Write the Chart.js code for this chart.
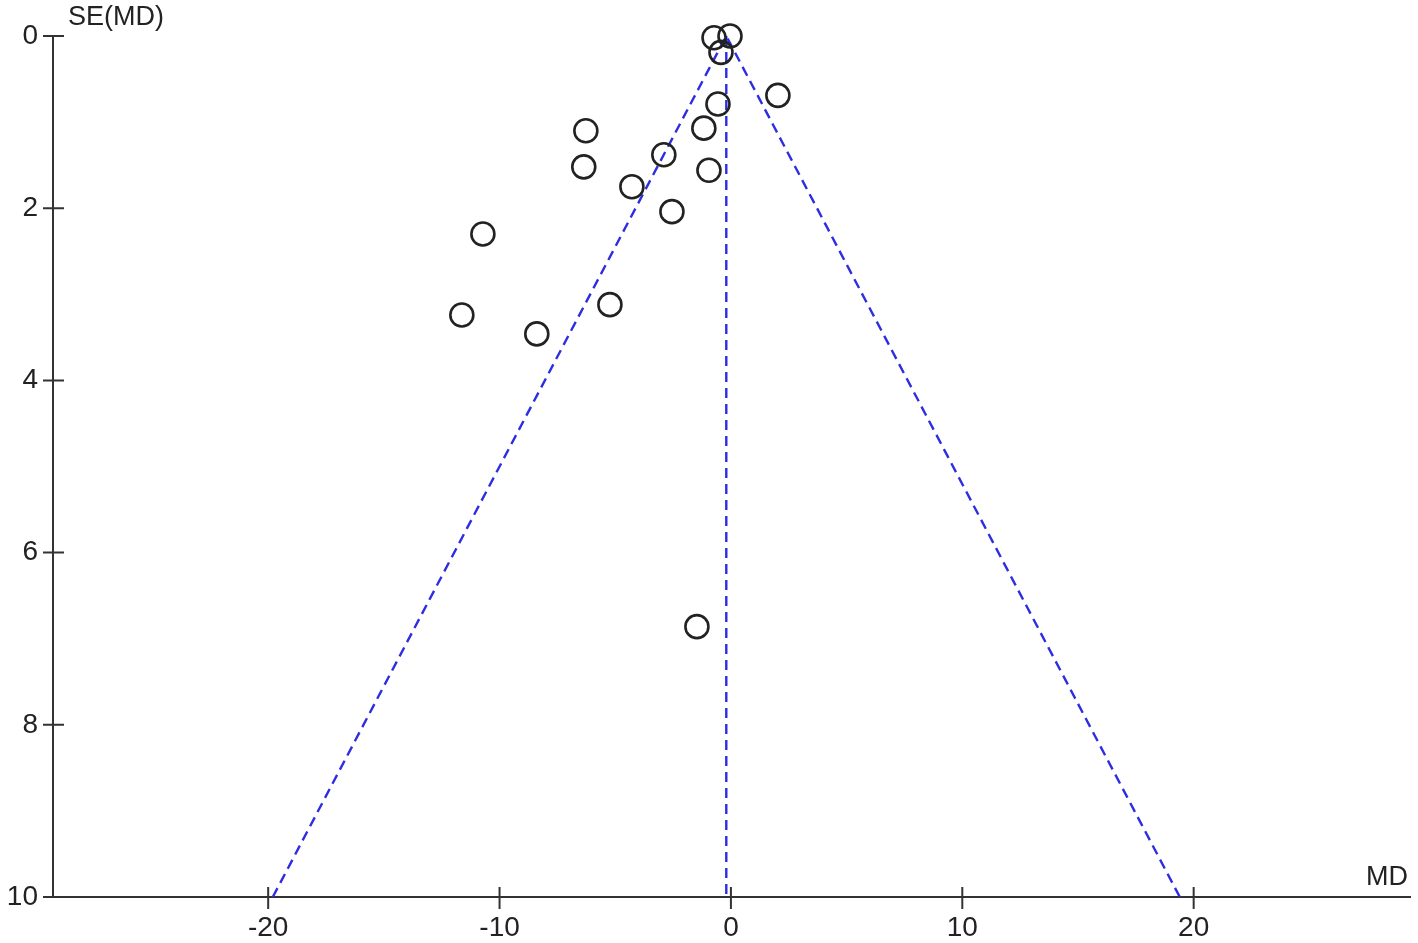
<!DOCTYPE html>
<html>
<head>
<meta charset="utf-8">
<script src="https://cdn.jsdelivr.net/npm/chart.js@4"></script>
<style>
  html, body { margin: 0; padding: 0; background: #fff; overflow: hidden; }
  #wrap { width: 1418px; height: 943px; position: relative; }
</style>
</head>
<body>
<div id="wrap"><canvas id="funnel"></canvas></div>
<script>
// Study estimates: mean difference (x) and its standard error (y)
const studyMD = [-0.73, -0.04, -0.43, 2.03, -0.56, -6.27, -1.17, -2.9, -6.36, -0.95, -4.28, -2.55, -10.72, -5.23, -11.63, -8.39, -1.47];
const studySE = [0.02, 0.0, 0.19, 0.69, 0.79, 1.10, 1.07, 1.38, 1.52, 1.56, 1.75, 2.04, 2.30, 3.12, 3.24, 3.46, 6.86];

// Pooled estimate and pseudo 95% limits at SE = 10
const pooledMD = -0.2;
const funnelMD = [-19.8, pooledMD, 19.4];
const funnelSE = [10, 0, 10];

const xTicks = [-20, -10, 0, 10, 20];
const yTicks = [0, 2, 4, 6, 8, 10];

const FONT = '"Liberation Sans", Arial, sans-serif';
const AXIS_COLOR = '#333';
const DASH_COLOR = 'rgb(45,45,225)';

// crossing tick marks and the axis titles
const axisDecor = {
    id: 'axisDecor',
    afterDraw(chart) {
        const { ctx, scales: { x, y } } = chart;
        ctx.save();
        ctx.strokeStyle = AXIS_COLOR;
        ctx.lineWidth = 2;
        ctx.beginPath();
        xTicks.forEach(v => {
            const px = x.getPixelForValue(v);
            ctx.moveTo(px, y.bottom - 10);
            ctx.lineTo(px, y.bottom + 12);
        });
        yTicks.forEach(v => {
            const py = y.getPixelForValue(v);
            ctx.moveTo(x.left - 10, py);
            ctx.lineTo(x.left + 11, py);
        });
        ctx.stroke();

        ctx.fillStyle = '#222';
        ctx.font = '27px ' + FONT;
        ctx.textBaseline = 'middle';
        ctx.textAlign = 'left';
        ctx.fillText('SE(MD)', x.left + 15, 18);
        ctx.textAlign = 'right';
        ctx.fillText('MD', x.right - 2, y.bottom - 19);
        ctx.restore();
    }
};

const chart = new Chart(document.getElementById('funnel'), {
    type: 'scatter',
    data: {
        datasets: [
            {
                label: 'Studies',
                data: studyMD.map((v, i) => ({ x: v, y: studySE[i] })),
                pointRadius: 11.5,
                pointHoverRadius: 11.5,
                pointBorderWidth: 2.6,
                borderColor: '#222',
                backgroundColor: 'rgba(0,0,0,0)',
                clip: false,
                order: 1
            },
            {
                type: 'line',
                label: 'Pseudo 95% limits',
                data: funnelMD.map((v, i) => ({ x: v, y: funnelSE[i] })),
                borderColor: DASH_COLOR,
                borderWidth: 2.4,
                borderDash: [10, 6],
                pointRadius: 0,
                fill: false,
                clip: false,
                order: 2
            },
            {
                type: 'line',
                label: 'Pooled MD',
                data: [{ x: pooledMD, y: 0 }, { x: pooledMD, y: 10 }],
                borderColor: DASH_COLOR,
                borderWidth: 2.4,
                borderDash: [10, 6],
                pointRadius: 0,
                fill: false,
                clip: false,
                order: 2
            }
        ]
    },
    options: {
        responsive: true,
        maintainAspectRatio: false,
        animation: false,
        layout: { autoPadding: false, padding: { top: 36, right: 8, left: 0, bottom: 0 } },
        plugins: {
            legend: { display: false },
            tooltip: { enabled: false }
        },
        scales: {
            x: {
                type: 'linear',
                min: -29.3,
                max: 29.35,
                afterBuildTicks: scale => { scale.ticks = xTicks.map(v => ({ value: v })); },
                afterFit: scale => {
                    scale.height = 46;
                    scale.paddingLeft = 0;
                    scale.paddingRight = 0;
                },
                grid: { display: false },
                border: { display: true, color: AXIS_COLOR, width: 2 },
                ticks: {
                    color: '#222',
                    padding: 6,
                    maxRotation: 0,
                    font: { family: FONT, size: 28 }
                }
            },
            y: {
                type: 'linear',
                reverse: true,
                min: 0,
                max: 10,
                afterBuildTicks: scale => { scale.ticks = yTicks.map(v => ({ value: v })); },
                afterFit: scale => {
                    scale.width = 53;
                    scale.paddingTop = 0;
                    scale.paddingBottom = 0;
                },
                grid: { display: false },
                border: { display: true, color: AXIS_COLOR, width: 2 },
                ticks: {
                    color: '#222',
                    padding: 7,
                    font: { family: FONT, size: 28 }
                }
            }
        }
    },
    plugins: [axisDecor]
});
</script>
</body>
</html>
